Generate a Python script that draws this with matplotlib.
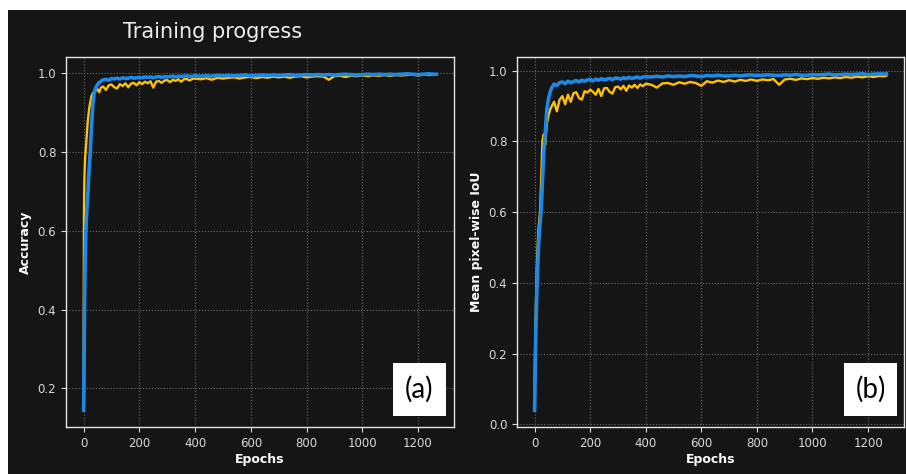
import matplotlib
matplotlib.use('Agg')
import matplotlib.pyplot as plt
from matplotlib.patches import Rectangle

epochs = [0, 1, 2, 3, 4, 5, 6, 7, 8, 10, 12, 14, 17, 20, 24, 28, 33, 38, 44, 50, 56, 62,
          70, 80, 90, 100, 110, 120, 130, 140, 150, 160, 170, 180, 190, 200, 210, 220,
          230, 240, 250, 260, 270, 280, 290, 300, 310, 320, 330, 340, 350, 360, 370,
          380, 390, 400,
          420, 440, 460, 480, 500, 520, 540, 560, 580, 600, 620, 640, 660, 680, 700,
          720, 740, 760, 780, 800, 820, 840, 860, 880, 900, 920, 940, 960, 980, 1000,
          1020, 1040, 1060, 1080, 1100, 1120, 1140, 1160, 1180, 1200, 1220, 1240, 1260,
          1266]

# (a) accuracy
acc_yellow = [0.22, 0.62, 0.70, 0.74, 0.76, 0.78, 0.79, 0.80, 0.81, 0.83, 0.85, 0.87, 0.89,
              0.91, 0.925, 0.94, 0.948, 0.950, 0.955, 0.958, 0.950, 0.962,
              0.965, 0.956, 0.968, 0.970, 0.963, 0.960, 0.971, 0.966, 0.973, 0.963, 0.972,
              0.974, 0.968, 0.976, 0.971, 0.977, 0.973, 0.978, 0.962, 0.977, 0.979, 0.974,
              0.980, 0.981, 0.976, 0.982, 0.979, 0.983, 0.977, 0.983, 0.984, 0.980, 0.984,
              0.985,
              0.983, 0.986, 0.982, 0.987, 0.985, 0.987, 0.988, 0.985, 0.988, 0.989, 0.986,
              0.989, 0.987, 0.990, 0.988, 0.990, 0.987, 0.990, 0.991, 0.988, 0.990, 0.991,
              0.990, 0.982, 0.991, 0.992, 0.989, 0.992, 0.991, 0.993, 0.991, 0.993, 0.992,
              0.994, 0.992, 0.994, 0.993, 0.994, 0.995, 0.993, 0.995, 0.994, 0.995,
              0.995]
acc_blue = [0.145, 0.20, 0.30, 0.38, 0.45, 0.50, 0.54, 0.57, 0.60, 0.63, 0.66, 0.68, 0.72,
            0.76, 0.80, 0.86, 0.92, 0.95, 0.962, 0.970, 0.975, 0.978,
            0.982, 0.983, 0.981, 0.985, 0.984, 0.986, 0.984, 0.987, 0.985, 0.986, 0.988,
            0.986, 0.987, 0.988, 0.987, 0.989, 0.988, 0.989, 0.987, 0.989, 0.990, 0.988,
            0.990, 0.989, 0.990, 0.991, 0.989, 0.991, 0.990, 0.991, 0.992, 0.990, 0.991,
            0.992,
            0.991, 0.992, 0.991, 0.993, 0.992, 0.993, 0.992, 0.993, 0.994, 0.992, 0.993,
            0.994, 0.993, 0.994, 0.993, 0.994, 0.995, 0.993, 0.994, 0.995, 0.994, 0.995,
            0.994, 0.995, 0.994, 0.995, 0.996, 0.995, 0.994, 0.995, 0.996, 0.995, 0.996,
            0.995, 0.996, 0.995, 0.996, 0.997, 0.996, 0.995, 0.996, 0.997, 0.996,
            0.996]

# (b) mean pixel-wise IoU
iou_yellow = [0.10, 0.16, 0.22, 0.27, 0.31, 0.35, 0.38, 0.41, 0.44, 0.48, 0.52, 0.55, 0.58,
              0.60, 0.70, 0.80, 0.82, 0.79, 0.85, 0.873, 0.89, 0.90,
              0.912, 0.885, 0.918, 0.928, 0.905, 0.932, 0.912, 0.936, 0.939, 0.922, 0.918,
              0.942, 0.938, 0.946, 0.940, 0.932, 0.948, 0.928, 0.950, 0.951, 0.940, 0.935,
              0.953, 0.955, 0.947, 0.957, 0.943, 0.958, 0.952, 0.960, 0.951, 0.961, 0.956,
              0.963,
              0.960, 0.952, 0.964, 0.965, 0.960, 0.967, 0.963, 0.968, 0.965, 0.957, 0.970,
              0.966, 0.972, 0.968, 0.973, 0.969, 0.974, 0.971, 0.975, 0.971, 0.975, 0.973,
              0.976, 0.960, 0.975, 0.977, 0.974, 0.978, 0.976, 0.979, 0.977, 0.980, 0.978,
              0.981, 0.979, 0.982, 0.980, 0.983, 0.981, 0.984, 0.982, 0.985, 0.984,
              0.986]
iou_blue = [0.04, 0.08, 0.14, 0.20, 0.24, 0.28, 0.31, 0.34, 0.37, 0.42, 0.46, 0.50, 0.54,
            0.57, 0.61, 0.68, 0.77, 0.82, 0.89, 0.92, 0.94, 0.952,
            0.962, 0.958, 0.966, 0.968, 0.963, 0.970, 0.966, 0.969, 0.972, 0.968, 0.973,
            0.970, 0.974, 0.975, 0.971, 0.976, 0.973, 0.977, 0.974, 0.976, 0.978, 0.975,
            0.979, 0.978, 0.976, 0.980, 0.977, 0.981, 0.978, 0.980, 0.982, 0.979, 0.982,
            0.983,
            0.982, 0.984, 0.982, 0.985, 0.983, 0.985, 0.983, 0.986, 0.985, 0.983, 0.986,
            0.985, 0.987, 0.985, 0.985, 0.987, 0.985, 0.987, 0.988, 0.986, 0.987, 0.988,
            0.987, 0.986, 0.988, 0.987, 0.989, 0.987, 0.987, 0.989, 0.988, 0.989, 0.990,
            0.988, 0.989, 0.990, 0.989, 0.990, 0.991, 0.989, 0.990, 0.991, 0.990,
            0.991]

BG = '#151515'
YELLOW = '#ffc107'
BLUE = '#1e88e5'
FG = '#d8d8d8'

W, H = 906, 474
fig = plt.figure(figsize=(W / 100, H / 100), dpi=100, facecolor='white')
fig.patches.append(Rectangle((8 / W, 0), 1, (H - 10) / H, transform=fig.transFigure,
                             facecolor=BG, edgecolor='none', zorder=-10))


def px_rect(x0, y0, x1, y1):
    return [x0 / W, 1 - y1 / H, (x1 - x0) / W, (y1 - y0) / H]


def style_axes(ax, ylabel):
    ax.set_facecolor(BG)
    for sp in ax.spines.values():
        sp.set_color('#e6e6e6')
        sp.set_linewidth(1.0)
    ax.tick_params(colors=FG, labelsize=8.5, length=3.5, width=0.8)
    ax.grid(True, linestyle=':', color='#6a6a6a', linewidth=0.8)
    ax.set_axisbelow(True)
    ax.set_xlabel('Epochs', color='white', fontsize=9, fontweight='bold', labelpad=2)
    ax.set_ylabel(ylabel, color='white', fontsize=9, fontweight='bold')
    ax.set_xticks([0, 200, 400, 600, 800, 1000, 1200])


ax1 = fig.add_axes(px_rect(66, 57, 454, 427))
ax1.plot(epochs, acc_yellow, color=YELLOW, lw=1.7)
ax1.plot(epochs, acc_blue, color=BLUE, lw=2.6)
style_axes(ax1, 'Accuracy')
ax1.set_yticks([0.2, 0.4, 0.6, 0.8, 1.0])

ax2 = fig.add_axes(px_rect(517, 57, 904, 427))
ax2.plot(epochs, iou_yellow, color=YELLOW, lw=1.7)
ax2.plot(epochs, iou_blue, color=BLUE, lw=2.6)
style_axes(ax2, 'Mean pixel-wise IoU')
ax2.set_yticks([0.0, 0.2, 0.4, 0.6, 0.8, 1.0])

fig.text(213 / W, 1 - 32 / H, 'Training progress', color='#ececec', fontsize=15,
         ha='center', va='center')

# panel tags
for (x0, x1), tag in [((393, 446), '(a)'), ((844, 897), '(b)')]:
    y0, y1 = 363, 416
    fig.patches.append(Rectangle((x0 / W, 1 - y1 / H), (x1 - x0) / W, (y1 - y0) / H,
                                 transform=fig.transFigure, facecolor='white',
                                 edgecolor='none', zorder=5))
    fig.text((x0 + x1) / 2 / W, 1 - (y0 + y1) / 2 / H, tag, color='black',
             fontsize=20, family='Lato', ha='center', va='center', zorder=6)

fig.savefig('out.png', dpi=100, facecolor=fig.get_facecolor())
